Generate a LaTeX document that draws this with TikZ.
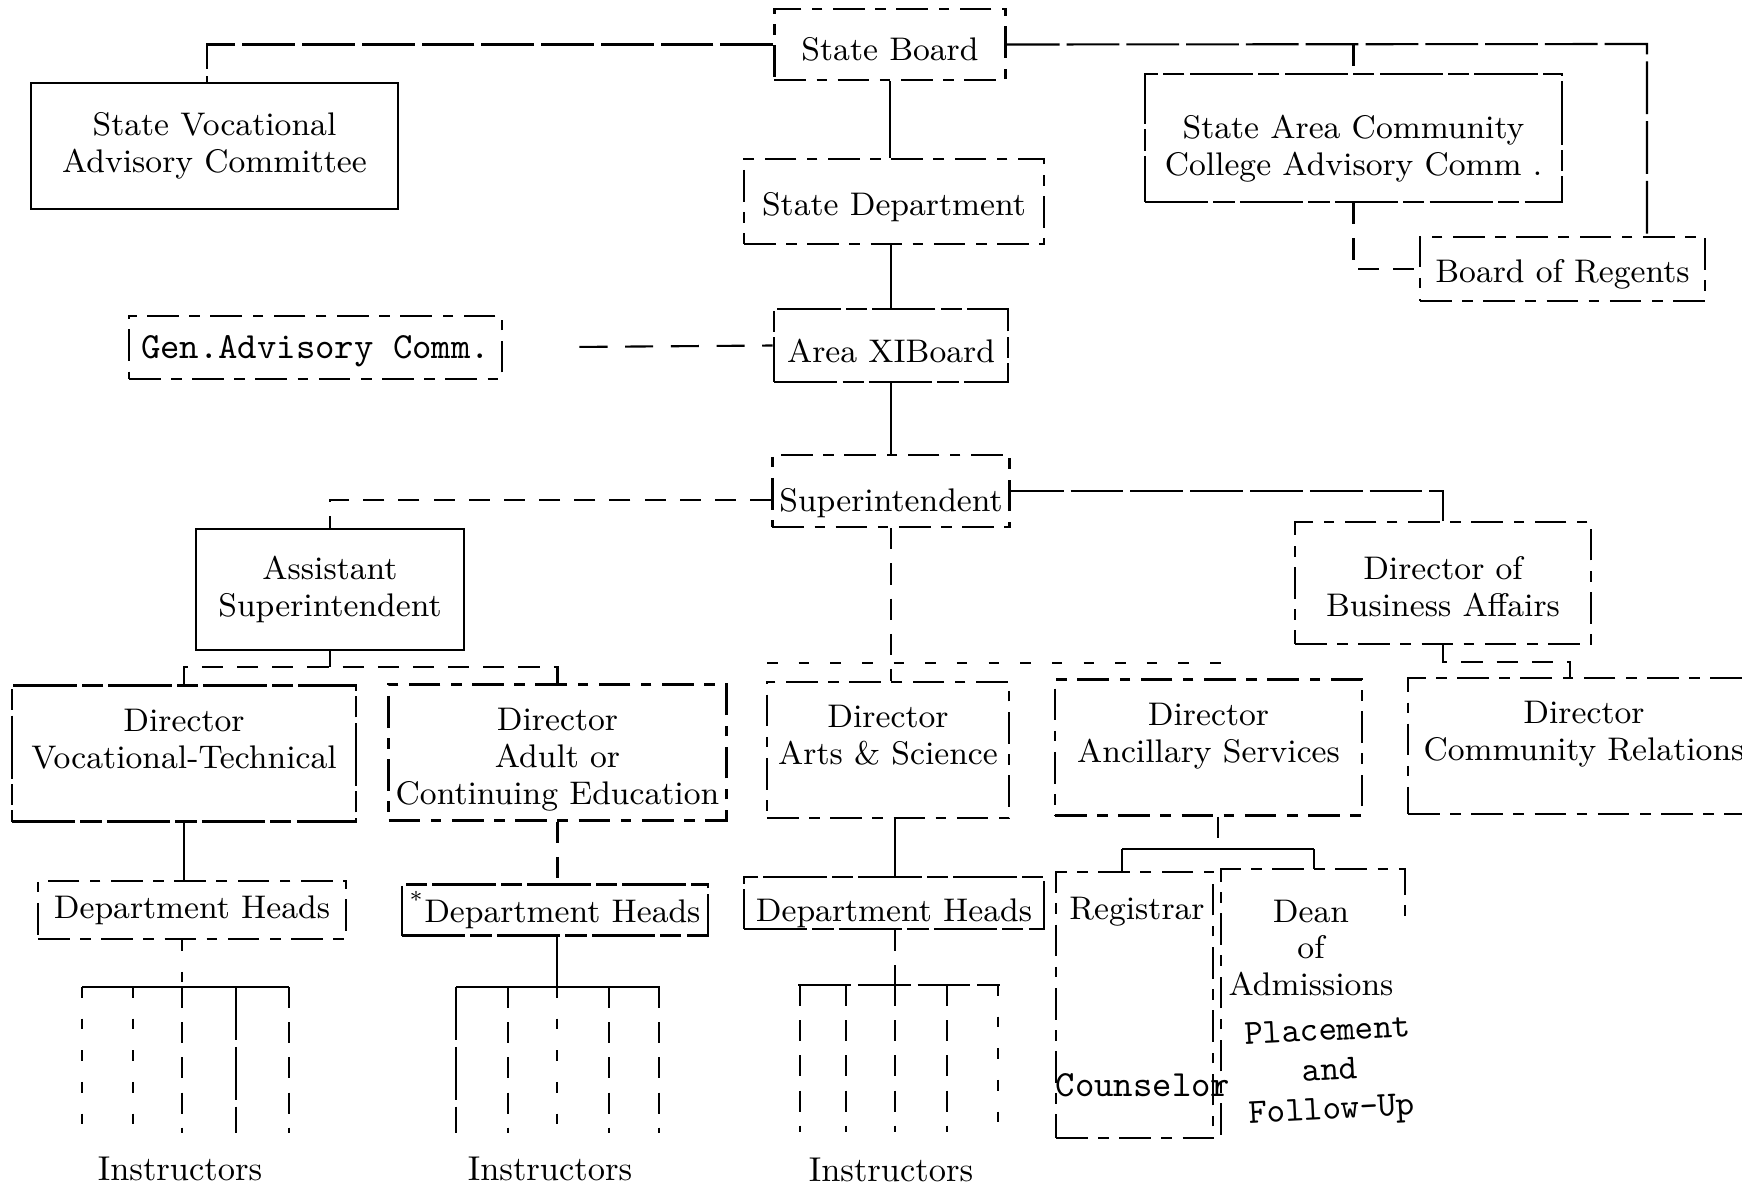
\documentclass[tikz,border=0pt]{standalone}
\usepackage{fontspec}
\newcommand\orgfont{\fontsize{9.3}{10.5}\selectfont}
\newcommand\orgmono{\ttfamily\fontsize{10.5}{9.2}\selectfont}
\tikzset{
  orgbox/.style={draw, line width=0.7pt, inner sep=2pt, align=center, font=\orgfont},
  dashline/.style={dash pattern=on 9pt off 3pt on 3pt off 3pt},
  roughline/.style={dash pattern=on 18pt off 1.5pt on 6pt off 1.5pt},
  solidbox/.style={orgbox},
  roughbox/.style={orgbox, roughline},
  dashbox/.style={orgbox, dashline},
  dirbox/.style={minimum height=1.36cm, inner ysep=0pt, text height=32.6pt, text depth=3.15pt},
  wire/.style={line width=0.6pt},
  rwire/.style={wire, dash pattern=on 15pt off 2pt},
  dwire/.style={wire, dash pattern=on 6pt off 4pt},
  swire/.style={wire, dash pattern=on 3pt off 6pt},
  thinwire/.style={line width=0.4pt},
  txt/.style={inner sep=1pt, align=center, font=\orgfont},
}

\begin{document}
\begin{tikzpicture}[x=0.01cm, y=-0.01cm]
		\useasboundingbox (0,0) rectangle (1742,1185);
		\clip (0,0) rectangle (1742,1185);
		% State level
		\node[dashbox, text height=9.5pt, minimum width=2.31cm, minimum height=0.71cm] (sboard) at (890,44.5) {State Board};
		\node[solidbox, minimum width=3.67cm, minimum height=1.26cm] (svac) at (214.5,146) {State Vocational\\Advisory Committee};
		\node[dashbox, text height=9.5pt, minimum width=3cm, minimum height=0.85cm] (sdept) at (894,201.5) {State Department};
		\node[roughbox, text height=23.2pt, minimum width=4.17cm, minimum height=1.28cm] (sacc) at (1353.5,138) {State Area Community\\College Advisory Comm .};
		\node[dashbox, text height=9.5pt, minimum width=2.85cm, minimum height=0.64cm] (regents) at (1562.5,269) {Board of Regents};
		% Area board and administration
		\node[roughbox, text height=9.5pt, minimum width=2.34cm, minimum height=0.73cm] (areaxi) at (891,345.5) {Area XIBoard};
		\node[dashbox, font=\orgmono, text height=8.5pt, minimum width=3.73cm, minimum height=0.63cm] (genadv) at (315.5,347.5) {Gen.Advisory Comm.};
		\node[dashbox, text height=13.3pt, minimum width=2.34cm, minimum height=0.72cm] (supt) at (891,491) {Superintendent};
		\node[solidbox, minimum width=2.68cm, minimum height=1.21cm] (asst) at (330,589.5) {Assistant\\Superintendent};
		\node[dashbox, text height=19pt, minimum width=2.96cm, minimum height=1.22cm] (busaff) at (1443,583) {Director of\\Business Affairs};
		% Directors
		\node[roughbox, dirbox, minimum width=3.44cm] (voctech) at (184,753.5) {Director\\Vocational-Technical\\\strut};
		\node[dashbox, dirbox, minimum width=3.33cm] (adulted) at (557.5,752.5) {Director\\Adult or\\Continuing Education};
		\node[dashbox, dirbox, minimum width=2.42cm] (arts) at (888,750) {Director\\Arts \& Science\\\strut};
		\node[dashbox, dirbox, minimum width=3.07cm] (ancil) at (1208.5,747.5) {Director\\Ancillary Services\\\strut};
		\node[dashbox, dirbox, minimum width=3.52cm] (commrel) at (1584,746) {Director\\Community Relations\\\strut};
		% Department heads
		\node[dashbox, minimum width=3.08cm, minimum height=0.58cm] (dhvoc) at (192,910) {Department Heads};
		\node[roughbox, minimum width=3.06cm, minimum height=0.50cm] (dhadult) at (555,910) {\textsuperscript{*}Department Heads};
		\node[roughbox, inner ysep=0pt, text height=12.45pt, minimum width=3.00cm, minimum height=0.52cm] (dharts) at (894,903) {Department Heads};
		% Ancillary services
		\node[dashbox, minimum width=1.57cm, minimum height=2.66cm] (regbox) at (1134.5,1005) {};
		\node[txt] (registrar) at (1137,912) {Registrar};
		\node[txt, font=\orgmono] (counselor) at (1143,1085) {Counselor};
		\node[minimum width=1.82cm, minimum height=2.64cm] (deanbox) at (1313,1002) {};
		\node[txt] (dean) at (1311,948) {Dean\\of\\Admissions};
		\node[txt, font=\ttfamily\fontsize{10}{11.2}\selectfont, rotate=3] (placement) at (1330,1073) {Placement\\and\\Follow-Up};
		\draw[line width=0.7pt, dashline] (deanbox.south west) -- (deanbox.north west) -- (deanbox.north east) -- ++(0,52);
		% Instructors
		\node[txt, font=\fontsize{9.8}{12}\selectfont] (instrvoc) at (180,1169) {Instructors};
		\node[txt, font=\fontsize{9.8}{12}\selectfont] (instradult) at (550,1169) {Instructors};
		\node[txt, font=\fontsize{9.8}{12}\selectfont] (instrarts) at (891,1170) {Instructors};
		\coordinate (fanvoc) at (182,987);
		\coordinate (fanadult) at (557,987);
		\coordinate (fanarts) at (895,985);
		\draw[wire] (82,987) -- (289,987);
		\draw[wire] (456,987) -- (660,987);
		\draw[rwire] (798,985) -- (1000,985);
		\foreach \fx/\fst in {82/swire, 133/swire, 182/dwire, 236/rwire, 289/dwire}
			\draw[\fst] (\fx,987) -- ++(0,146);
		\foreach \fx/\fst in {456/rwire, 508/dwire, 557/swire, 609/dwire, 659/dwire}
			\draw[\fst] (\fx,987) -- ++(0,146);
		\foreach \fx/\fst in {800/dwire, 846/dwire, 895/dwire, 947/dwire, 998/swire}
			\draw[\fst] (\fx,985) -- ++(0,147);

		% State level wires
		\coordinate (sbcorner) at (1647,44);
		\draw[rwire] (sboard.west) -| (svac.north -| 207,0);
		\draw[rwire] (sboard.east) -- (sbcorner) -- (sbcorner |- regents.north);
		\draw[dwire] (sacc.north |- sboard.east) -- (sacc.north);
		\draw[dwire] (sacc.south) |- (regents.west);
		\draw[thinwire] (sboard.south) -- (sboard.south |- sdept.north);
		\draw[thinwire] (areaxi.north |- sdept.south) -- (areaxi.north);
		\draw[wire, dash pattern=on 8pt off 5pt, shorten <=0.76cm] (genadv.east) -- (areaxi.west);
		\draw[thinwire] (areaxi.south) -- (supt.north);
		% Superintendent wires
		\coordinate (asstbus) at (330,667);
		\coordinate (suptbus) at (767,663);
		\coordinate (ancildrop) at (1222,663);
		\coordinate (bacorner) at (1570,662);
		\draw[dwire] ([yshift=-0.09cm]supt.west) -| (asst.north);
		\draw[rwire] (supt.east) -| (busaff.north);
		\draw[wire] (asst.south) -- (asstbus);
		\draw[dwire] (voctech.north) |- (adulted.north |- asstbus) -- (adulted.north);
		\draw[dwire] (supt.south) -- (supt.south |- arts.north);
		\draw[swire] (suptbus) -- (ancildrop) -- (ancildrop |- ancil.north);
		\draw[dwire] (busaff.south) |- (bacorner) -- (bacorner |- commrel.north);
		% Director wires
		\draw[thinwire] (voctech.south) -- (voctech.south |- dhvoc.north);
		\draw[swire] (fanvoc |- dhvoc.south) -- (fanvoc);
		\draw[dwire] (adulted.south) -- (adulted.south |- dhadult.north);
		\draw[wire] (fanadult |- dhadult.south) -- (fanadult);
		\draw[wire] (fanarts |- arts.south) -- (fanarts |- dharts.north);
		\draw[dwire] (fanarts |- dharts.south) -- (fanarts);
		\coordinate (ancbus) at (1218,849);
		\coordinate (regdrop) at (1122,849);
		\coordinate (deandrop) at (1314,849);
		\draw[dwire] (ancbus |- ancil.south) -- (ancbus);
		\draw[wire] (regdrop) -- (deandrop);
		\draw[wire] (regdrop) -- (regdrop |- regbox.north);
		\draw[dwire] (deandrop) -- (deandrop |- deanbox.north);
	\end{tikzpicture}
\end{document}
